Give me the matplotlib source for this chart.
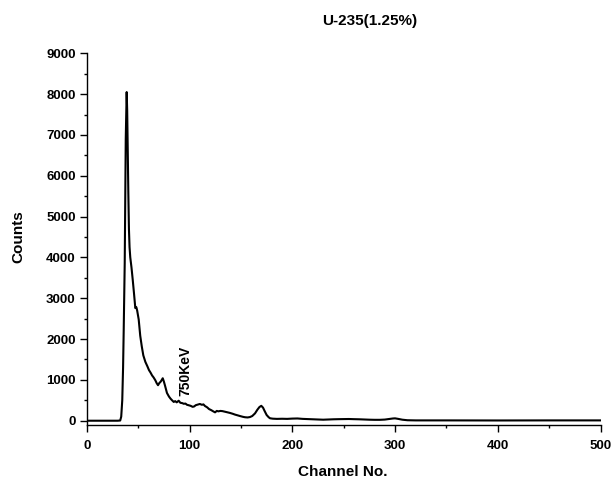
import matplotlib
matplotlib.use("Agg")
import matplotlib.pyplot as plt
from matplotlib.ticker import MultipleLocator

plt.rcParams['font.family'] = ['Liberation Sans', 'DejaVu Sans']
plt.rcParams['font.weight'] = 'bold'

# Gamma spectrum of U-235 (1.25%) sample: channel number vs counts
channels = [0, 30, 32.5, 33.5, 34.5, 35.3, 35.9, 36.9, 37.9, 38.8,
            39.3, 39.8, 40.4, 41.0, 41.6, 42.3, 43.5, 44.7, 46.0, 47.2,
            48.2, 49.0, 50.5, 52.0, 53.5, 55.0, 57.0, 59.0, 60.5, 62.0,
            63.5, 65.0, 66.7, 68.0, 69.3, 70.5, 72.0, 73.9, 75.0, 76.0,
            78.0, 80.0, 81.5, 83.0, 84.6, 86.0, 87.5, 89.4, 91.0, 93.0,
            94.3, 96.0, 97.5, 99.0, 101.0, 103.0, 104.5, 106.0, 108.0, 110.0,
            112.0, 113.5, 115.0, 117.0, 119.0, 121.0, 123.0, 124.8, 126.5, 128.0,
            130.0, 132.0, 134.5, 137.0, 139.4, 142.0, 144.2, 147.0, 149.0, 152.0,
            154.0, 156.5, 158.8, 161.0, 163.7, 166.0, 168.0, 169.8, 171.5, 173.0,
            175.0, 177.0, 178.3, 181.0, 185.0, 190.0, 195.0, 200.0, 205.0, 210.0,
            215.0, 220.0, 225.0, 230.0, 235.0, 240.0, 245.0, 250.0, 255.0, 260.0,
            265.0, 270.0, 275.0, 280.0, 285.0, 290.0, 295.0, 298.0, 300.0, 303.0,
            307.0, 312.0, 320.0, 350.0, 400.0, 450.0, 500.0]
counts = [0, 0, 5, 100, 500, 1300, 2200, 3860, 6900, 8050,
          7600, 6700, 5600, 4700, 4250, 4000, 3750, 3450, 3100, 2760,
          2780, 2700, 2480, 2080, 1820, 1600, 1440, 1330, 1240, 1180,
          1110, 1060, 990, 920, 870, 920, 960, 1040, 960, 870,
          680, 590, 540, 500, 460, 480, 450, 490, 440, 430,
          415, 420, 390, 380, 365, 340, 350, 380, 395, 410,
          390, 400, 360, 330, 285, 260, 230, 205, 240, 230,
          240, 235, 220, 205, 190, 170, 150, 130, 115, 95,
          85, 80, 90, 115, 180, 270, 335, 365, 320, 240,
          140, 85, 60, 50, 45, 48, 45, 52, 55, 45,
          40, 35, 30, 25, 30, 35, 38, 40, 42, 38,
          35, 30, 25, 22, 22, 28, 45, 55, 58, 45,
          25, 12, 8, 8, 6, 8, 8]

x_ticks = [0, 100, 200, 300, 400, 500]
y_ticks = [0, 1000, 2000, 3000, 4000, 5000, 6000, 7000, 8000, 9000]

fig = plt.figure(figsize=(6.13, 4.87), dpi=100)
ax = fig.add_axes([0.1416, 0.1273, 0.8382, 0.7633])

ax.plot(channels, counts, color='black', linewidth=1.5)

ax.set_xlim(0, 500)
ax.set_ylim(-105, 9000)
ax.set_xticks(x_ticks)
ax.set_yticks(y_ticks)
ax.xaxis.set_minor_locator(MultipleLocator(50))
ax.yaxis.set_minor_locator(MultipleLocator(500))

for side in ('top', 'right'):
    ax.spines[side].set_visible(False)
for side in ('left', 'bottom'):
    ax.spines[side].set_linewidth(1.0)

ax.tick_params(axis='both', which='major', direction='out', length=5,
               width=1.0, labelsize=9.5)
ax.tick_params(axis='both', which='minor', direction='out', length=2.5,
               width=1.0)
ax.tick_params(axis='x', which='major', pad=6)
ax.tick_params(axis='y', which='major', pad=3)
for lbl in ax.get_xticklabels() + ax.get_yticklabels():
    lbl.set_fontweight('bold')

ax.set_xlabel('Channel No.', fontsize=11, fontweight='bold')
ax.set_ylabel('Counts', fontsize=11, fontweight='bold')
ax.xaxis.set_label_coords(0.498, -0.108)
ax.yaxis.set_label_coords(-0.120, 0.506)

ax.text(95.5, 1210, '750KeV', rotation=90, ha='center', va='center',
        fontsize=10, fontweight='bold')

fig.text(0.6036, 0.957, 'U-235(1.25%)', ha='center', va='center',
         fontsize=11, fontweight='bold')

fig.savefig('out.png', dpi=100)
